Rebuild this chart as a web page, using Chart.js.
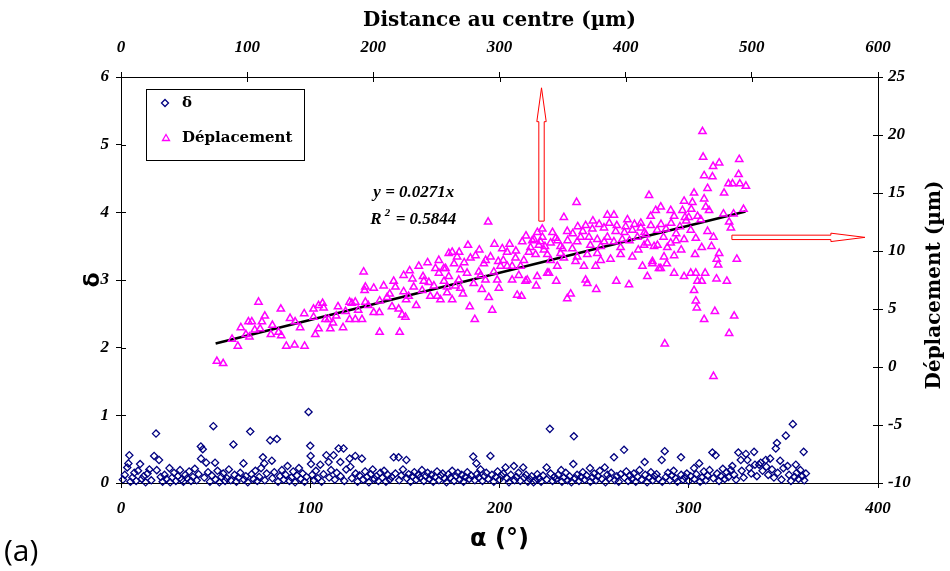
<!DOCTYPE html>
<html><head><meta charset="utf-8">
<script src="https://cdn.jsdelivr.net/npm/chart.js@4.4.0/dist/chart.umd.min.js"></script>
<style>html,body{margin:0;padding:0;background:#fff;}#wrap{width:950px;height:571px;}</style>
</head><body><div id="wrap"><canvas id="c" width="950" height="571"></canvas></div>
<script>
// ---- axes ----
const alphaRange = [0, 400];      // bottom axis α (°)
const distanceRange = [0, 600];   // top axis distance (µm)
const deltaRange = [0, 6];        // left axis δ
const dispRange = [-10, 25];      // right axis Déplacement (µm)

// ---- series: δ versus α (°) ----
const deltaPoints = [
[1,0.05],[2,0.12],[3.3,0.23],[3.9,0.29],[4.4,0.41],[5,0.02],[6,0.08],[7,0.15],[8,0.03],[9,0.18],
[10.1,0.28],[11,0.06],[12,0.1],[13,0.01],[14,0.14],[15,0.2],[16,0.04],[17.5,0.4],[18.5,0.73],[18.9,0.19],
[20.1,0.34],[21,0.09],[22,0.02],[23,0.12],[24,0.06],[25.6,0.22],[26,0.01],[27,0.08],[28,0.15],[29,0.03],
[30,0.1],[31.2,0.19],[32,0.05],[33,0.02],[34,0.12],[35,0.07],[36,0.17],[37,0.03],[38,0.09],[39,0.21],
[40,0.04],[41,0.13],[42.2,0.54],[42.3,0.36],[43.2,0.5],[44,0.08],[45,0.3],[46,0.16],[47,0.02],[48,0.11],
[48.8,0.84],[49.7,0.3],[50,0.05],[51,0.18],[52,0.01],[53,0.09],[54,0.14],[55,0.03],[56,0.07],[57,0.2],
[58,0.04],[59.4,0.57],[60,0.12],[61,0.02],[62,0.08],[63,0.15],[64.7,0.29],[65,0.05],[66,0.1],[67,0.01],
[68.3,0.76],[69,0.13],[70,0.06],[71,0.18],[72,0.03],[73,0.09],[74,0.22],[75,0.38],[75.7,0.29],[76,0.04],
[77,0.14],[78.8,0.63],[79.7,0.33],[80,0.07],[81,0.16],[82.4,0.65],[83,0.02],[84,0.1],[85,0.19],[86,0.05],
[87,0.12],[88,0.25],[89,0.03],[90,0.08],[91,0.17],[92,0.01],[93,0.11],[94,0.22],[95,0.06],[96,0.14],
[97,0.02],[98,0.09],[99.1,1.05],[100,0.55],[100.2,0.4],[100.4,0.28],[101,0.12],[102,0.04],[103,0.18],[104,0.07],
[105.3,0.27],[106,0.02],[107,0.13],[108.5,0.41],[109.7,0.31],[110,0.08],[111,0.19],[112.3,0.41],[113,0.05],[114,0.15],
[115,0.51],[115.9,0.31],[116,0.1],[117.6,0.51],[118,0.03],[119,0.2],[120.8,0.36],[121.2,0.24],[122,0.07],[123.8,0.4],
[124,0.14],[125,0.02],[126,0.11],[127.3,0.36],[128,0.05],[129,0.17],[130,0.09],[131,0.01],[132,0.13],[133,0.2],
[134,0.06],[135,0.1],[136,0.03],[137,0.15],[138,0.08],[139,0.18],[140,0.02],[141,0.12],[142,0.05],[143,0.09],
[144.1,0.38],[145,0.14],[146.7,0.38],[147,0.04],[148,0.11],[149,0.2],[150.8,0.34],[151,0.07],[152,0.13],[153,0.02],
[154,0.1],[155,0.16],[156,0.05],[157,0.12],[158,0.08],[159,0.19],[160,0.03],[161,0.1],[162,0.15],[163,0.06],
[164,0.12],[165,0.02],[166,0.09],[167,0.17],[168,0.04],[169,0.11],[170,0.14],[171,0.07],[172,0.01],[173,0.13],
[174,0.08],[175,0.18],[176,0.03],[177,0.1],[178,0.15],[179,0.05],[180,0.12],[181,0.02],[182,0.09],[183,0.16],
[184,0.06],[185,0.11],[186.1,0.39],[187,0.04],[187.8,0.29],[188,0.13],[189,0.08],[190,0.2],[191,0.03],[192,0.1],
[193,0.15],[194,0.06],[195.2,0.4],[196,0.12],[197,0.02],[198,0.09],[199,0.17],[200,0.05],[201,0.11],[202,0.14],
[203.2,0.23],[204,0.07],[205,0.01],[206,0.12],[207.6,0.25],[208,0.04],[209,0.09],[210,0.15],[211,0.03],[212.5,0.23],
[213,0.08],[214,0.12],[215,0.02],[216,0.06],[217,0.1],[218,0.01],[219,0.04],[220,0.13],[221,0.07],[222,0.02],
[223,0.11],[224.9,0.23],[226.6,0.8],[225,0.05],[227,0.14],[228,0.03],[229,0.09],[230,0.06],[231,0.12],[232.6,0.19],
[233,0.02],[234,0.08],[235,0.15],[236,0.04],[237,0.1],[238,0.01],[239,0.28],[239.3,0.69],[240,0.07],[241,0.12],
[242,0.03],[243,0.09],[244,0.16],[245,0.05],[246,0.11],[247.8,0.22],[248,0.02],[249,0.08],[250,0.14],[251,0.04],
[252,0.1],[253,0.18],[254,0.06],[255.6,0.23],[256,0.01],[257,0.12],[258,0.07],[259,0.15],[260.5,0.38],[261,0.04],
[262,0.1],[263,0.02],[264,0.13],[265.8,0.49],[266,0.08],[267,0.17],[268,0.03],[269,0.11],[270,0.06],[271,0.14],
[272,0.02],[273,0.09],[274,0.19],[275,0.05],[276.7,0.31],[277,0.12],[278,0.01],[279,0.08],[280,0.16],[281,0.04],
[282,0.1],[283,0.13],[284,0.06],[285.7,0.34],[286,0.02],[287.3,0.47],[288,0.09],[289,0.15],[290,0.04],[291,0.11],
[292,0.18],[293,0.07],[294,0.02],[295.9,0.38],[296,0.12],[297,0.05],[298,0.09],[299,0.14],[300,0.03],[301,0.1],
[302.8,0.22],[303,0.06],[304,0.13],[305.5,0.29],[306,0.02],[307,0.08],[308,0.17],[309,0.04],[310,0.11],[311,0.19],
[312.5,0.45],[313,0.07],[314.2,0.41],[315,0.14],[316,0.03],[317,0.1],[318,0.21],[319,0.06],[320,0.16],[321,0.09],
[322.2,0.19],[323,0.25],[324,0.12],[325,0.05],[326.2,0.45],[327.5,0.34],[328,0.18],[329,0.08],[330.2,0.43],[331,0.34],
[332,0.22],[333,0.14],[334.5,0.46],[335,0.27],[336,0.1],[337.2,0.27],[338,0.3],[339,0.18],[340.7,0.34],[341,0.24],
[342,0.12],[343,0.36],[344,0.2],[345,0.08],[346,0.51],[346.6,0.59],[347,0.15],[348.3,0.33],[349,0.05],[350,0.22],
[351.3,0.7],[352.2,0.25],[353,0.12],[354,0.03],[355,0.87],[356,0.09],[356.6,0.27],[357,0.15],[358,0.06],[359,0.19],
[360,0.1],[360.7,0.46],[361.9,0.14],[361,0.04]
];

// ---- series: Déplacement (µm) versus distance au centre (µm) ----
const deplacementPoints = [
[76,0.5],[81,0.3],[92.6,1.8],[99,2.8],[101.8,2.6],[101,3.9],[103.7,3.9],[109,5.6],[111.7,3.9],[110.3,3.3],
[118.8,2.8],[124.9,3.0],[127,2.7],[126.7,5.0],[131,1.8],[137.6,1.9],[145.5,1.8],[138,3.9],[145.2,4.6],[152.6,5.0],
[154,2.8],[156.6,3.3],[156.6,5.3],[159.8,5.5],[160.6,5.1],[152.6,4.3],[162,4.1],[165.9,3.3],[164.6,4.1],[170.6,4.4],
[176,3.4],[181.2,5.6],[183,5.5],[185.7,5.6],[181.2,4.1],[185.7,4.1],[191,4.1],[192.3,8.2],[193.7,6.9],[193.1,6.6],
[193.7,5.6],[200.3,6.8],[200.3,4.7],[204.8,4.7],[205,3.0],[208.2,7.0],[210.9,6.0],[214.8,5.2],[216.1,7.4],[217.5,6.9],
[220.9,3.0],[220.1,5.0],[222.8,4.5],[225.4,4.3],[224,7.9],[228.8,8.3],[224,6.5],[232,6.9],[236,8.7],[239.4,7.8],
[240,7.4],[228,6.1],[238.7,6.6],[245.2,6.1],[249.2,8.5],[251.9,9.2],[250.6,6.1],[253.2,5.8],[257.2,8.5],[258.5,6.9],
[259.8,9.8],
[361.1,14.2],[291,12.5],[351,12.9],[333.9,11.9],[385.5,13.1],[390.7,13.1],[401.4,12.7],[412,12.4],[419.8,13.0],
[262.5,9.9],[266.4,9.5],[277,9.4],[292.9,9.5],[302.2,10.2],[306.1,9.9],[312.7,9.4],[324.6,10.3],[332.5,10.8],[344.5,11.1],
[353.7,11.7],[368.3,12.2],[373.6,11.9],[382.8,12.0],[392.1,11.7],[405.3,11.8],[415.9,11.4],
[255.8,8.5],[259.8,7.8],[269,8.4],[274.3,8.1],[283.6,8.2],[288.9,7.5],[298.2,7.5],[306.1,8.7],[315.3,7.9],[320.6,7.4],
[329.9,7.8],[337.9,8.1],[345.8,8.7],[351,9.4],[360.3,9.1],[366.9,8.7],[376.2,8.7],[388,9.3],[396,9.7],[405.3,9.5],
[413.3,8.7],[421.2,9.1],[426.4,8.5],
[258.5,6.4],[262.5,5.8],[269,6.8],[276.4,5.2],[280.4,4.1],[291.5,6.0],[294.2,4.9],[299.5,6.8],[314,6.2],[317.5,6.1],
[322,7.5],[329.1,7.0],[339.2,8.1],[345,7.4],[353.7,5.9],[356.4,6.3],[368.3,7.5],[369.6,7.2],[376.7,6.7],[392.6,7.4],
[402.6,7.1],[417.2,7.8],
[327.3,11.0],[331.2,10.5],[335.2,10.1],[337.9,9.7],[328.6,9.7],[323.3,9.9],[319.3,9.2],[316.7,8.7],[340.5,10.7],[348.4,10.4],
[348.4,9.8],[357.7,10.2],[361.6,10.8],[364.3,11.2],[370.9,11.2],[377.5,11.0],[380.2,10.4],[385.5,11.2],[390.7,10.8],[397.3,11.0],
[400,12.1],[409.3,11.2],[414.6,10.5],[422.5,10.4],[377.5,9.8],[361.6,9.5],[310,8.7],[300.8,8.7],[287.6,8.9],[285,7.9],
[267.7,7.5],[295.5,8.2],[279.6,7.2],[310,7.5],[340.5,9.2],[369.6,9.7],[380.2,9.2],
[460.9,20.3],[461.4,18.1],[469.3,17.3],[474.1,17.6],[490,17.9],[462.2,16.5],[468.8,16.4],[489.5,16.6],[481.5,15.8],[484.7,15.8],
[490.5,15.8],[495.3,15.6],[464.9,15.4],[478,15.0],[454.2,15.0],[418.5,14.8],[462.2,14.5],[446.3,14.3],[452.9,14.2],[463.5,13.8],
[466.1,13.5],[435.7,13.5],[445,13.5],[427.8,13.8],[423.8,13.5],[477.5,13.2],[485.5,13.2],[493.4,13.6],[482,12.5],[483.4,12.0],
[459.5,12.7],[438.4,13.0],[451.6,11.8],[464.9,11.7],[469.6,11.2],[455.6,11.1],[446.3,11.0],[435.7,10.7],[425.2,10.5],[417.2,10.7],
[460.3,10.3],[468,10.4],[455,9.7],[474.1,9.8],[472.2,9.3],[488.1,9.3],[473.3,8.8],[438.4,9.6],[430.4,9.5],[432.6,8.9],
[427.8,8.5],[421.2,8.9],[438.4,8.1],[446.3,7.8],[451.6,8.1],[455.6,8.1],[463,8.1],[456.9,7.4],[460.3,7.4],[472,7.6],
[480.2,7.4],[454.2,6.6],[455.6,5.7],[456.4,5.1],[470.7,4.8],[486,4.4],[462.2,4.1],[482,2.9],[431,2.0],[469.6,-0.8],
[412,12.0],[415,11.6],[420,12.2],[428,12.3],[432,11.9],[436,12.4],[440,11.5],[443,12.1],[448,12.6],[440,10.9],
[430,11.2],[425,11.8],[433,10.3],[444,10.1],[450,12.9],[457,13.0],[452,13.6],[447,12.9],
[303,9.2],[308,10.6],[313,10.0],[318,10.8],[321,11.3],[326,10.9],[330,11.6],[334,11.2],[336,10.4],[342,11.6],
[346,10.9],[350,10.2],[354,10.9],[358,11.5],[362,12.1],[366,11.7],[372,10.5],[374,12.6],[379,12.3],[383,10.8],
[387,12.4],[393,12.2],[396,10.3],[399,11.6],[403,10.9],[407,12.3],[410,10.1],
[244,7.3],[248,7.0],[252,8.1],[256,7.4],[264,8.9],[268,9.9],[272,9.0],[275,10.5],[281,9.6],[284,10.1],
[289,9.2],[296,10.6],[299,9.1],[265,7.0],[271,6.3],[286,6.7],[243,9.0],[231,7.6],[234,5.3],[226,5.8],
[213,6.3],[205,5.7],[196,5.3],[188,4.9],[178,4.8],[172,5.2],[168,3.8],[142,3.4],[134,4.2],[120,3.6],
[114,4.4],[106,3.2],[88,2.4],[95,3.4]
];

// ---- linear trend of Déplacement: y = 0.0271x (end points) ----
const trendDistance = [75, 495];
const trendDisplacement = [2.03, 13.41];
const trendLabel = 'y = 0.0271x';
const r2Label = '0.5844';

// ---- red arrow annotations, in (α, δ) units ----
const upArrow = { x: 222.2, yStart: 3.87, yHead: 5.34, yTip: 5.84 };
const rightArrow = { y: 3.63, xStart: 322.8, xHead: 375.1, xTip: 393.1 };

const tickFont = { family: 'Liberation Serif', size: 17, style: 'italic', weight: 'bold' };

const overlay = {
  id: 'overlay',
  beforeDraw(chart) {
    const ctx = chart.ctx;
    ctx.save(); ctx.fillStyle = '#fff'; ctx.fillRect(0, 0, chart.width, chart.height); ctx.restore();
  },
  afterDraw(chart) {
    const ctx = chart.ctx;
    const sx = chart.scales.x, sy = chart.scales.y, sx2 = chart.scales.x2, sy2 = chart.scales.y2;
    const ca = chart.chartArea;
    ctx.save();
    // inner half of the crossing tick marks
    ctx.strokeStyle = '#000'; ctx.lineWidth = 1;
    ctx.beginPath();
    sx.ticks.forEach(t => { const p = Math.round(sx.getPixelForValue(t.value)) + 0.5; ctx.moveTo(p, ca.bottom); ctx.lineTo(p, ca.bottom - 5); });
    sx2.ticks.forEach(t => { const p = Math.round(sx2.getPixelForValue(t.value)) + 0.5; ctx.moveTo(p, ca.top); ctx.lineTo(p, ca.top + 5); });
    sy.ticks.forEach(t => { const p = Math.round(sy.getPixelForValue(t.value)) + 0.5; ctx.moveTo(ca.left, p); ctx.lineTo(ca.left + 5, p); });
    sy2.ticks.forEach(t => { const p = Math.round(sy2.getPixelForValue(t.value)) + 0.5; ctx.moveTo(ca.right, p); ctx.lineTo(ca.right - 5, p); });
    ctx.stroke();

    // arrows
    ctx.strokeStyle = '#ff0000'; ctx.fillStyle = '#fff'; ctx.lineWidth = 1;
    let ax = sx.getPixelForValue(upArrow.x), y0 = sy.getPixelForValue(upArrow.yStart),
        yh = sy.getPixelForValue(upArrow.yHead), yt = sy.getPixelForValue(upArrow.yTip);
    ctx.beginPath();
    ctx.moveTo(ax - 2.7, y0); ctx.lineTo(ax - 2.7, yh); ctx.lineTo(ax - 4.7, yh); ctx.lineTo(ax, yt);
    ctx.lineTo(ax + 4.7, yh); ctx.lineTo(ax + 2.7, yh); ctx.lineTo(ax + 2.7, y0); ctx.closePath();
    ctx.fill(); ctx.stroke();
    let ay = sy.getPixelForValue(rightArrow.y), x0 = sx.getPixelForValue(rightArrow.xStart),
        xh = sx.getPixelForValue(rightArrow.xHead), xt = sx.getPixelForValue(rightArrow.xTip);
    ctx.beginPath();
    ctx.moveTo(x0, ay - 2.2); ctx.lineTo(xh, ay - 2.2); ctx.lineTo(xh, ay - 4.2); ctx.lineTo(xt, ay);
    ctx.lineTo(xh, ay + 4.2); ctx.lineTo(xh, ay + 2.2); ctx.lineTo(x0, ay + 2.2); ctx.closePath();
    ctx.fill(); ctx.stroke();

    // regression text
    ctx.fillStyle = '#000'; ctx.textBaseline = 'middle'; ctx.textAlign = 'left';
    ctx.font = 'italic bold 17px "Liberation Serif"';
    ctx.fillText(trendLabel, sx2.getPixelForValue(200), sy2.getPixelForValue(15.0));
    let rx = sx2.getPixelForValue(197.6), ry = sy2.getPixelForValue(12.67);
    ctx.fillText('R', rx, ry);
    let w = ctx.measureText('R').width;
    ctx.font = 'italic bold 11px "Liberation Serif"';
    ctx.fillText('2', rx + w + 3, ry - 7);
    ctx.font = 'italic bold 17px "Liberation Serif"';
    ctx.fillText('= ' + r2Label, rx + w + 14, ry);

    // legend
    ctx.lineWidth = 1; ctx.strokeStyle = '#000'; ctx.fillStyle = '#fff';
    ctx.fillRect(146.5, 89.5, 158, 71); ctx.strokeRect(146.5, 89.5, 158, 71);
    ctx.lineWidth = 1.3;
    ctx.strokeStyle = '#000080';
    ctx.beginPath(); ctx.moveTo(165, 99.5); ctx.lineTo(168.5, 103); ctx.lineTo(165, 106.5); ctx.lineTo(161.5, 103); ctx.closePath(); ctx.stroke();
    ctx.strokeStyle = '#ff00ff';
    ctx.beginPath(); ctx.moveTo(166, 134.5); ctx.lineTo(169.5, 140.5); ctx.lineTo(162.5, 140.5); ctx.closePath(); ctx.stroke();
    ctx.fillStyle = '#000'; ctx.font = 'bold 15px "DejaVu Serif"';
    ctx.fillText('δ', 182, 103);
    ctx.fillText('Déplacement', 182, 138);

    // right axis title (reads bottom to top)
    ctx.save();
    ctx.translate(935, (ca.top + ca.bottom) / 2 + 5);
    ctx.rotate(-Math.PI / 2);
    ctx.textAlign = 'center'; ctx.textBaseline = 'middle';
    ctx.font = 'bold 20px "DejaVu Serif"';
    ctx.fillText('Déplacement (µm)', 0, 0);
    ctx.restore();

    // panel label
    ctx.textAlign = 'left'; ctx.textBaseline = 'alphabetic';
    ctx.font = '30px "Open Sans"';
    ctx.fillText('(a)', 4, 561);
    ctx.restore();
  }
};

new Chart(document.getElementById('c'), {
  type: 'scatter',
  data: {
    datasets: [
      { label: 'δ', data: deltaPoints.map(p => ({ x: p[0], y: p[1] })), xAxisID: 'x', yAxisID: 'y',
        pointStyle: 'rectRot', pointRadius: 3.6, borderColor: '#000080', backgroundColor: 'rgba(255,255,255,0)', borderWidth: 1.3, clip: false },
      { label: 'Déplacement', data: deplacementPoints.map(p => ({ x: p[0], y: p[1] })), xAxisID: 'x2', yAxisID: 'y2',
        pointStyle: 'triangle', pointRadius: 4.2, borderColor: '#ff00ff', backgroundColor: 'rgba(255,255,255,0)', borderWidth: 1.5, clip: false },
      { type: 'line', label: 'trend', data: trendDistance.map((d, i) => ({ x: d, y: trendDisplacement[i] })), xAxisID: 'x2', yAxisID: 'y2',
        borderColor: '#000', borderWidth: 2.6, pointRadius: 0, showLine: true, fill: false }
    ]
  },
  options: {
    responsive: false, animation: false, devicePixelRatio: 1,
    layout: { padding: 0 },
    plugins: { legend: { display: false }, tooltip: { enabled: false } },
    scales: {
      x: { type: 'linear', position: 'bottom', min: alphaRange[0], max: alphaRange[1],
        ticks: { stepSize: 100, font: tickFont, color: '#000', padding: 10, maxRotation: 0 },
        grid: { drawOnChartArea: false, tickLength: 5, color: '#000' }, border: { color: '#000', width: 1 },
        title: { display: true, text: 'α (°)', color: '#000', font: { family: 'DejaVu Sans', weight: 'bold', size: 24 }, padding: { top: 0, bottom: 17 } },
        afterFit(s) { s.height = 88; } },
      x2: { type: 'linear', position: 'top', min: distanceRange[0], max: distanceRange[1],
        ticks: { stepSize: 100, font: tickFont, color: '#000', padding: 14, maxRotation: 0 },
        grid: { drawOnChartArea: false, tickLength: 5, color: '#000' }, border: { color: '#000', width: 1 },
        title: { display: true, text: 'Distance au centre (µm)', color: '#000', font: { family: 'DejaVu Serif', weight: 'bold', size: 20 }, padding: { top: 9, bottom: 0 } },
        afterFit(s) { s.height = 77; } },
      y: { type: 'linear', position: 'left', min: deltaRange[0], max: deltaRange[1],
        ticks: { stepSize: 1, font: tickFont, color: '#000', padding: 7 },
        grid: { drawOnChartArea: false, tickLength: 5, color: '#000' }, border: { color: '#000', width: 1 },
        title: { display: true, text: 'δ', color: '#000', font: { family: 'DejaVu Sans', weight: 'bold', size: 22 }, padding: { top: 80, bottom: 0 } },
        afterFit(s) { s.width = 121; } },
      y2: { type: 'linear', position: 'right', min: dispRange[0], max: dispRange[1],
        ticks: { stepSize: 5, font: tickFont, color: '#000', padding: 5 },
        grid: { drawOnChartArea: false, tickLength: 5, color: '#000' }, border: { color: '#000', width: 1 },
        afterFit(s) { s.width = 72; } }
    }
  },
  plugins: [overlay]
});
</script>
</body></html>
